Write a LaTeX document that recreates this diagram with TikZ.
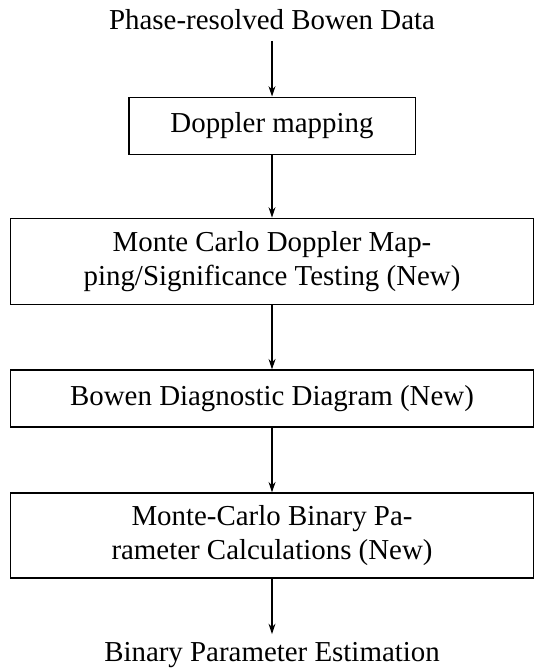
\documentclass[tikz,border=0pt]{standalone}
\usepackage{fontspec}
\setmainfont{Liberation Serif}
\usetikzlibrary{arrows.meta}
\begin{document}
\begin{tikzpicture}[x=0.346pt,y=-0.346pt,
  every node/.style={font=\fontsize{10}{12}\selectfont, align=center, inner sep=0pt},
  stepbox/.style={draw, line width=0.4pt, minimum width=181.0pt},
  conn/.style={-{Stealth[length=3.6pt,width=2.4pt]}, line width=0.4pt}]
\useasboundingbox (0,0) rectangle (535,669);
\node[anchor=base] (t) at (272,30) {Phase-resolved Bowen Data};
\node[draw, line width=0.4pt, minimum width=99pt, minimum height=20pt] (b1) at (272,126) {Doppler mapping};
\node[stepbox, minimum height=30pt] (b2) at (272,261.5) {Monte Carlo Doppler Map-\\ping/Significance Testing (New)};
\node[stepbox, minimum height=19.7pt] (b3) at (272,398.5) {Bowen Diagnostic Diagram (New)};
\node[stepbox, minimum height=29.4pt] (b4) at (272,535.5) {Monte-Carlo Binary Pa-\\rameter Calculations (New)};
\node[anchor=base] (e) at (272,661) {Binary Parameter Estimation};
\draw[conn] ([yshift=-3.5pt]t.south) -- (b1.north);
\draw[conn] (b1.south) -- (b2.north);
\draw[conn] (b2.south) -- (b3.north);
\draw[conn] (b3.south) -- (b4.north);
\draw[conn] (b4.south) -- ([yshift=2.5pt]e.north);
\end{tikzpicture}
\end{document}
